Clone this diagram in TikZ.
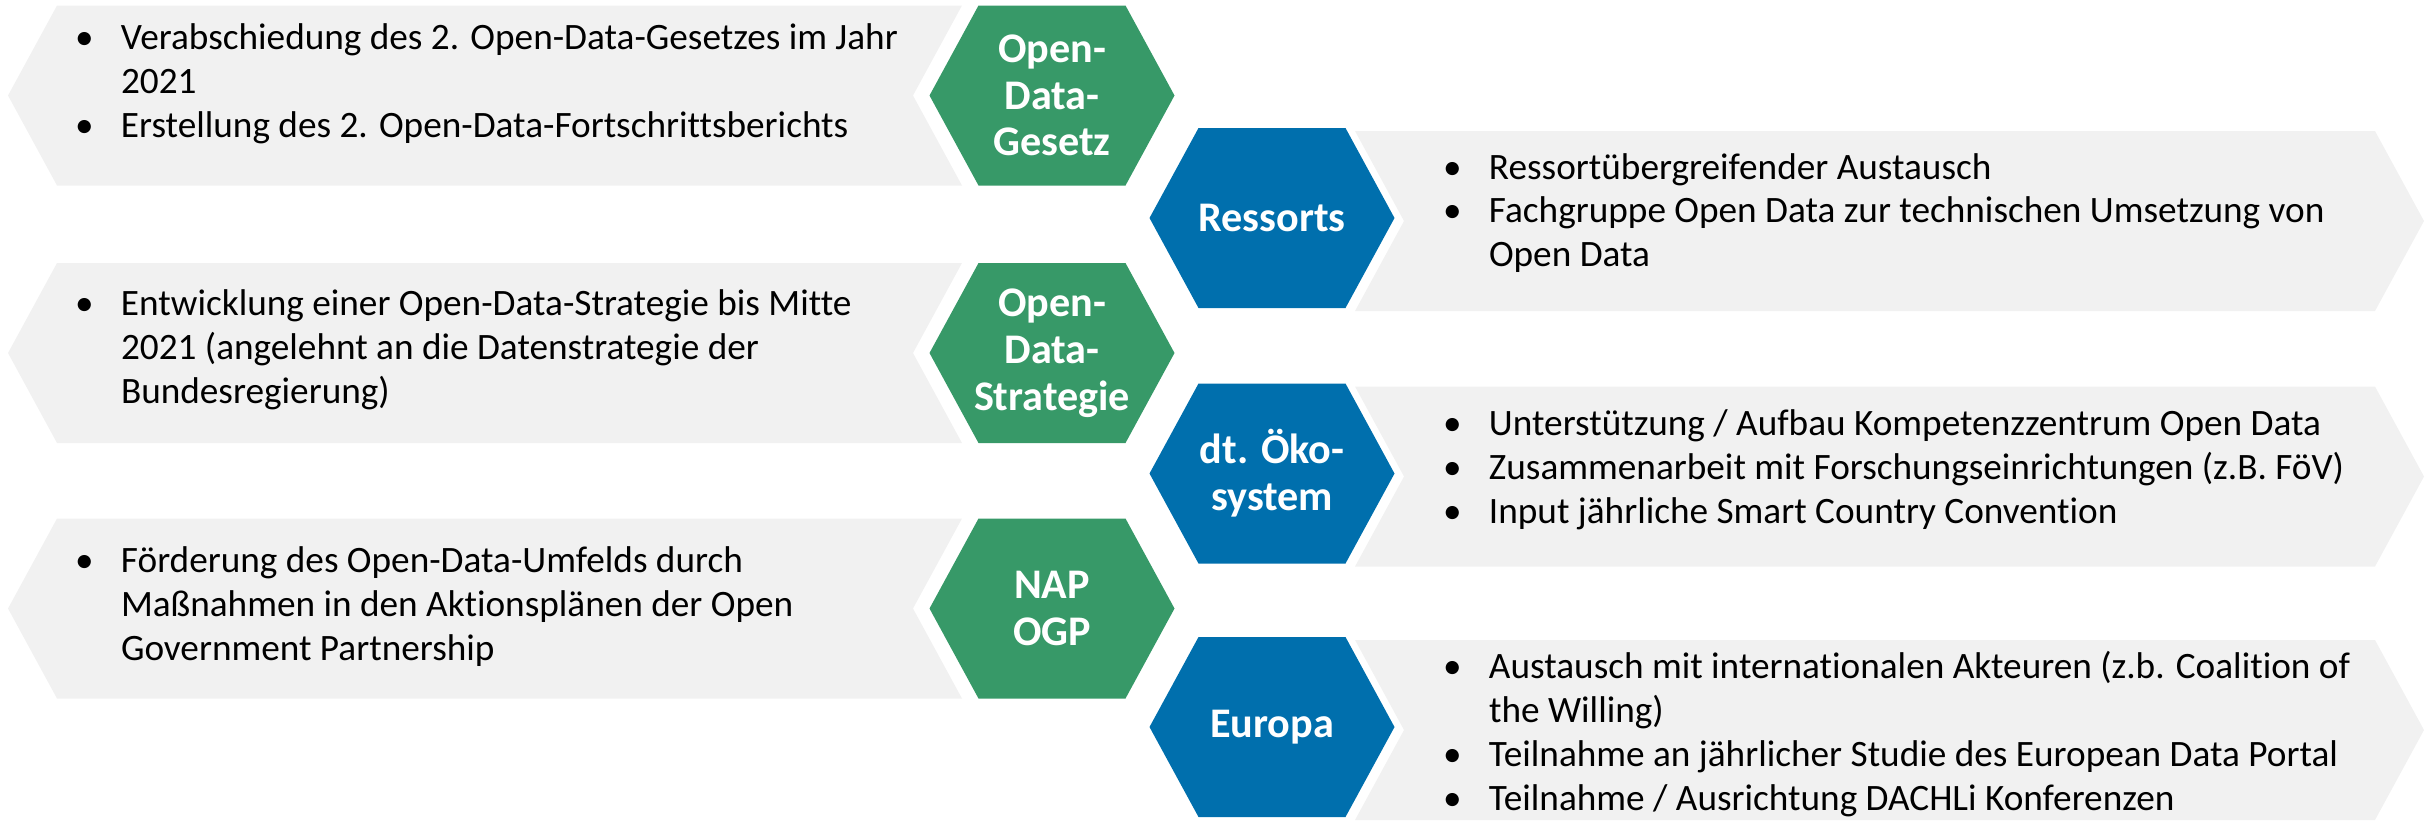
\documentclass[tikz,border=0pt]{standalone}
\usepackage{fontspec}
\setmainfont{Carlito}[Ligatures={NoCommon}]
\usepackage{tikz}
\usetikzlibrary{positioning}

\definecolor{hexgreen}{RGB}{55,153,104}
\definecolor{hexblue}{RGB}{0,111,173}
\definecolor{panelgrey}{RGB}{241,241,241}

\newcommand{\bul}{\makebox[0.46cm][l]{\textbullet}}
\newcommand{\cont}{\hspace*{0.46cm}}

\begin{document}
\begin{tikzpicture}
  \useasboundingbox (0,0) rectangle (24.33,-8.22);

  % Set the styles
  \tikzset{
    hexa/.style={minimum width=2.45cm, minimum height=1.8cm, inner sep=0pt,
      text=white, align=center, font=\fontsize{12}{13.3}\selectfont\bfseries,
      path picture={\fill[#1] (path picture bounding box.west)
        -- ([xshift=0.49cm]path picture bounding box.north west)
        -- ([xshift=-0.49cm]path picture bounding box.north east)
        -- (path picture bounding box.east)
        -- ([xshift=-0.49cm]path picture bounding box.south east)
        -- ([xshift=0.49cm]path picture bounding box.south west) -- cycle;}},
    leftpanel/.style={minimum width=9.54cm, minimum height=1.8cm, inner sep=0pt,
      path picture={\fill[panelgrey] (path picture bounding box.west)
        -- ([xshift=0.49cm]path picture bounding box.north west)
        -- (path picture bounding box.north east)
        -- ([xshift=-0.49cm]path picture bounding box.east)
        -- (path picture bounding box.south east)
        -- ([xshift=0.49cm]path picture bounding box.south west) -- cycle;}},
    rightpanel/.style={minimum width=10.69cm, minimum height=1.8cm, inner sep=0pt,
      path picture={\fill[panelgrey] (path picture bounding box.north west)
        -- ([xshift=-0.49cm]path picture bounding box.north east)
        -- (path picture bounding box.east)
        -- ([xshift=-0.49cm]path picture bounding box.south east)
        -- (path picture bounding box.south west)
        -- ([xshift=0.49cm]path picture bounding box.west) -- cycle;}},
    paneltext/.style={anchor=west, inner sep=0pt, align=left,
      font=\fontsize{10.6}{12.5}\selectfont}
  }

  % Grey panels
  \foreach \name/\y in {gesetz/-0.955, strategie/-3.53, nap/-6.085}{
    \node[leftpanel] (\name panel) at (4.85,\y) {};
  }
  \foreach \name/\y in {ressorts/-2.21, oeko/-4.765, europa/-7.30}{
    \node[rightpanel] (\name panel) at (18.895,\y) {};
  }

  % Hexagons
  \foreach \name/\x/\y/\col/\txt in {gesetz/10.52/-0.955/hexgreen/{Open-\\Data-\\Gesetz},
      strategie/10.52/-3.53/hexgreen/{Open-\\Data-\\Strategie},
      nap/10.52/-6.085/hexgreen/{NAP\\OGP},
      ressorts/12.72/-2.18/hexblue/{Ressorts},
      oeko/12.72/-4.735/hexblue/{dt. Öko-\\system},
      europa/12.72/-7.27/hexblue/{Europa}}{
    \node[hexa=\col] (\name) at (\x,\y) {\txt};
  }

  % Bullet texts
  \node[paneltext] (gesetztext) at ([xshift=0.67cm, yshift=0.12cm]gesetzpanel.west)
    {\bul Verabschiedung des 2. Open-Data-Gesetzes im Jahr\\
     \cont 2021\\
     \bul Erstellung des 2. Open-Data-Fortschrittsberichts};
  \node[paneltext] (strategietext) at ([xshift=0.67cm, yshift=0.03cm]strategiepanel.west)
    {\bul Entwicklung einer Open-Data-Strategie bis Mitte\\
     \cont 2021 (angelehnt an die Datenstrategie der\\
     \cont Bundesregierung)};
  \node[paneltext] (naptext) at ([xshift=0.67cm, yshift=0.02cm]nappanel.west)
    {\bul Förderung des Open-Data-Umfelds durch\\
     \cont Maßnahmen in den Aktionsplänen der Open\\
     \cont Government Partnership};
  \node[paneltext] (ressortstext) at ([xshift=0.88cm, yshift=0.08cm]ressortspanel.west)
    {\bul Ressortübergreifender Austausch\\
     \bul Fachgruppe Open Data zur technischen Umsetzung von\\
     \cont Open Data};
  \node[paneltext] (oekotext) at ([xshift=0.88cm, yshift=0.07cm]oekopanel.west)
    {\bul Unterstützung / Aufbau Kompetenzzentrum Open Data\\
     \bul Zusammenarbeit mit Forschungseinrichtungen (z.B. FöV)\\
     \bul Input jährliche Smart Country Convention};
  \node[paneltext] (europatext) at ([xshift=0.88cm, yshift=-0.04cm]europapanel.west)
    {\bul Austausch mit internationalen Akteuren (z.b. Coalition of\\
     \cont the Willing)\\
     \bul Teilnahme an jährlicher Studie des European Data Portal\\
     \bul Teilnahme / Ausrichtung DACHLi Konferenzen};
\end{tikzpicture}
\end{document}
